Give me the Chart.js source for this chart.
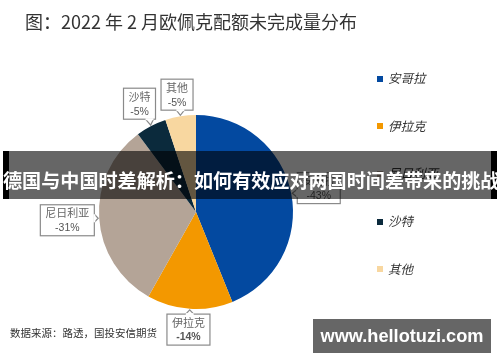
<!DOCTYPE html>
<html>
<head>
<meta charset="utf-8">
<script src="https://cdn.jsdelivr.net/npm/chart.js@4"></script>
<style>
  body { margin: 0; background: #fff; }
  #wrap { position: relative; width: 500px; height: 362px; overflow: hidden; font-family: "Noto Sans CJK SC", "Noto Sans", sans-serif; }
  #title { position: absolute; left: 25px; top: 8px; font-size: 18px; color: #333; white-space: nowrap; }
  #legend { position: absolute; left: 377px; top: 0; }
  .item { position: absolute; left: 0; white-space: nowrap; font-size: 12.5px; font-style: italic; color: #333; }
  .item i { display: inline-block; width: 6px; height: 6px; margin-right: 5px; vertical-align: middle; position: relative; top: -1px; }
  #source { position: absolute; left: 10px; top: 325px; font-size: 10.5px; color: #333; white-space: nowrap; }
  #banner { position: absolute; left: 3px; top: 151px; width: 494px; height: 48px; background: rgba(0,0,0,0.6);
            color: #fff; font-weight: bold; font-size: 19.1px; line-height: 48px; text-align: center; white-space: nowrap; }
  #banner:before, #banner:after { content: ""; position: absolute; top: 0; width: 6px; height: 48px; background: #000; }
  #banner:before { left: 0; }
  #banner:after { right: 0; }
  #banner span { position: relative; top: 5px; z-index: 1; }
  #mark { position: absolute; left: 313px; top: 319px; width: 178px; height: 34px; background: rgba(0,0,0,0.6);
          color: #fff; font-family: "Liberation Sans", Arial, sans-serif; font-weight: bold; font-size: 18.2px; line-height: 34px; text-align: center; }
</style>
</head>
<body>
<div id="wrap">
  <canvas id="pie" width="500" height="362"></canvas>
  <div id="title">图：2022 年 2 月欧佩克配额未完成量分布</div>
  <div id="legend"></div>
  <div id="source">数据来源：路透，国投安信期货</div>
  <div id="banner"><span>德国与中国时差解析：如何有效应对两国时间差带来的挑战</span></div>
  <div id="mark">www.hellotuzi.com</div>
</div>
<script>
const countries = ["安哥拉", "伊拉克", "尼日利亚", "沙特", "其他"];
const shortfall = [-43, -14, -31, -5, -5];
const sliceColors = ["#0349A0", "#F39800", "#B4A497", "#0B2A3C", "#F8D7A0"];

// legend on the right
let legend = document.querySelector("#legend");
countries.forEach((name, i) => {
    let div = document.createElement("div");
    div.className = "item";
    div.style.top = (68 + i * 47.7) + "px";
    div.innerHTML = `<i style="background:${sliceColors[i]}"></i>${name}`;
    legend.appendChild(div);
});

// callout boxes next to each slice
const callouts = {
    id: "callouts",
    afterDatasetsDraw(chart) {
        const ctx = chart.ctx;
        const meta = chart.getDatasetMeta(0);
        meta.data.forEach((arc, i) => {
            const p = arc.getProps(["x", "y", "startAngle", "endAngle", "outerRadius"], true);
            const mid = (p.startAngle + p.endAngle) / 2;
            const dx = Math.cos(mid), dy = Math.sin(mid);
            const name = countries[i];
            const val = shortfall[i] + "%";
            ctx.font = "11px 'Noto Sans CJK SC'";
            const w = Math.max(ctx.measureText(name).width, ctx.measureText(val).width) + 10;
            const h = 31;
            const half = Math.abs(dx) * w / 2 + Math.abs(dy) * h / 2;
            const dist = p.outerRadius + 4 + half;
            const cx = p.x + dx * dist, cy = p.y + dy * dist;
            const x0 = cx - w / 2, y0 = cy - h / 2;

            ctx.save();
            ctx.fillStyle = "#fff";
            ctx.strokeStyle = "#8a8a8a";
            ctx.lineWidth = 1.2;
            ctx.fillRect(x0, y0, w, h);
            ctx.strokeRect(x0, y0, w, h);
            // little pointer towards the slice
            const tipX = p.x + dx * (p.outerRadius + 1), tipY = p.y + dy * (p.outerRadius + 1);
            let bx, by, ox, oy;
            if (Math.abs(dx) * h > Math.abs(dy) * w) {
                bx = dx > 0 ? x0 : x0 + w; by = Math.min(Math.max(tipY, y0 + 6), y0 + h - 6); ox = 0; oy = 4;
            } else {
                by = dy > 0 ? y0 : y0 + h; bx = Math.min(Math.max(tipX, x0 + 6), x0 + w - 6); ox = 4; oy = 0;
            }
            ctx.beginPath();
            ctx.moveTo(bx - ox, by - oy);
            ctx.lineTo(tipX, tipY);
            ctx.lineTo(bx + ox, by + oy);
            ctx.fill();
            ctx.stroke();
            ctx.fillRect(bx - ox - (ox ? 0 : 1), by - oy - (oy ? 0 : 1), ox ? 8 : 2, oy ? 8 : 2);

            ctx.textAlign = "center";
            ctx.textBaseline = "middle";
            ctx.fillStyle = "#666";
            ctx.font = "11px 'Noto Sans CJK SC'";
            ctx.fillText(name, cx, cy - 7);
            ctx.fillStyle = "#555";
            ctx.font = (name === "伊拉克" ? "bold " : "") + "10.5px 'Liberation Sans'";
            ctx.fillText(val, cx, cy + 8);
            ctx.restore();
        });
    }
};

const ctx = document.getElementById("pie").getContext("2d");
const pieChart = new Chart(ctx, {
    type: "pie",
    data: {
        labels: countries,
        datasets: [{
            data: shortfall.map(v => Math.abs(v)),
            backgroundColor: sliceColors,
            borderWidth: 0
        }]
    },
    options: {
        responsive: false,
        animation: false,
        layout: { padding: { left: 99, right: 207, top: 115, bottom: 53 } },
        plugins: {
            legend: { display: false },
            tooltip: { enabled: false }
        }
    },
    plugins: [callouts]
});
</script>
</body>
</html>
